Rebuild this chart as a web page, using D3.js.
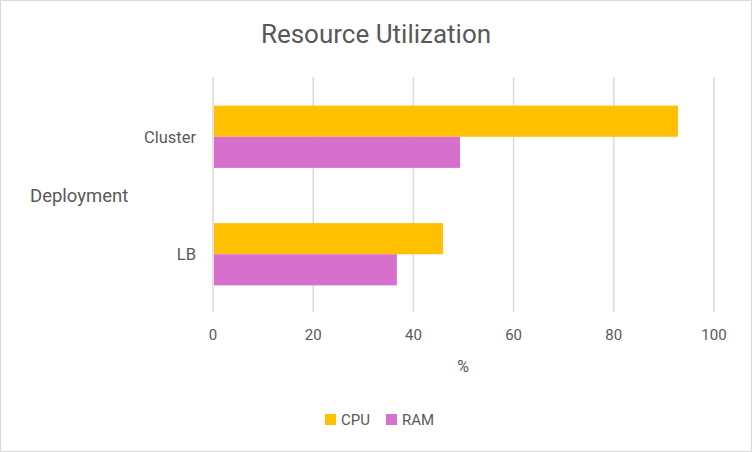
<!DOCTYPE html>
<html>
<head>
<meta charset="utf-8">
<script src="https://cdn.jsdelivr.net/npm/d3@7"></script>
<style>
  body { margin: 0; background: #fff; }
  svg { display: block; font-family: Roboto, "Open Sans", sans-serif; }
</style>
</head>
<body>
<svg width="752" height="452"></svg>
<script>
// datos
const categories = ["Cluster", "LB"];
const seriesNames = ["CPU", "RAM"];
const cpuValues = [92.8, 45.9];
const ramValues = [49.3, 36.7];
const xTicks = [0, 20, 40, 60, 80, 100];
const colors = ["#FFC000", "#D670CC"];

const rows = categories.map((c, i) => ({ cat: c, values: [cpuValues[i], ramValues[i]] }));

const svg = d3.select("svg");
const W = 752, H = 452;

// borde
svg.append("rect")
  .attr("x", 0.5).attr("y", 0.5)
  .attr("width", W - 1).attr("height", H - 1)
  .attr("fill", "#fff").attr("stroke", "#d9d9d9");

const plotLeft = 213, plotRight = 714, plotTop = 78, plotBottom = 313;

const x = d3.scaleLinear().domain([0, 100]).range([plotLeft, plotRight]);
const y0 = d3.scaleBand().domain(categories).range([plotTop, plotBottom]).paddingInner(0.47).paddingOuter(0.235);
const y1 = d3.scaleBand().domain(seriesNames).range([0, y0.bandwidth()]);

// lineas de cuadricula
svg.append("g")
  .selectAll("line")
  .data(xTicks)
  .join("line")
  .attr("x1", d => x(d)).attr("x2", d => x(d))
  .attr("y1", plotTop - 1).attr("y2", plotBottom - 1)
  .attr("stroke", "#d9d9d9").attr("stroke-width", 1.5);

// barras
svg.append("g")
  .selectAll("g")
  .data(rows)
  .join("g")
  .attr("transform", d => `translate(0,${y0(d.cat)})`)
  .selectAll("rect")
  .data(d => d.values.map((v, i) => ({ key: seriesNames[i], v: v, i: i })))
  .join("rect")
  .attr("x", x(0) + 1)
  .attr("y", d => y1(d.key))
  .attr("width", d => x(d.v) - x(0) - 1)
  .attr("height", y1.bandwidth())
  .attr("fill", d => colors[d.i]);

// etiquetas del eje x
svg.append("g")
  .selectAll("text")
  .data(xTicks)
  .join("text")
  .attr("x", d => x(d)).attr("y", 340)
  .attr("text-anchor", "middle")
  .attr("font-size", 15).attr("fill", "#595959")
  .text(d => d);

// etiquetas del eje y
svg.append("g")
  .selectAll("text")
  .data(categories)
  .join("text")
  .attr("x", 196)
  .attr("y", d => y0(d) + y0.bandwidth() / 2 + 6)
  .attr("text-anchor", "end")
  .attr("font-size", 16.5).attr("fill", "#595959")
  .text(d => d);

// titulos
svg.append("text")
  .attr("x", 376).attr("y", 43)
  .attr("text-anchor", "middle")
  .attr("font-size", 26).attr("fill", "#595959")
  .text("Resource Utilization");

svg.append("text")
  .attr("x", 463).attr("y", 372)
  .attr("text-anchor", "middle")
  .attr("font-size", 16).attr("fill", "#595959")
  .text("%");

svg.append("text")
  .attr("x", 30).attr("y", 202)
  .attr("font-size", 18.5).attr("fill", "#595959")
  .text("Deployment");

// leyenda
const legend = svg.append("g")
  .selectAll("g")
  .data(seriesNames)
  .join("g")
  .attr("transform", (d, i) => `translate(${325 + i * 61},414)`);

legend.append("rect")
  .attr("width", 11).attr("height", 11)
  .attr("fill", (d, i) => colors[i]);

legend.append("text")
  .attr("x", 16).attr("y", 11)
  .attr("font-size", 15).attr("fill", "#595959")
  .text(d => d);
</script>
</body>
</html>
